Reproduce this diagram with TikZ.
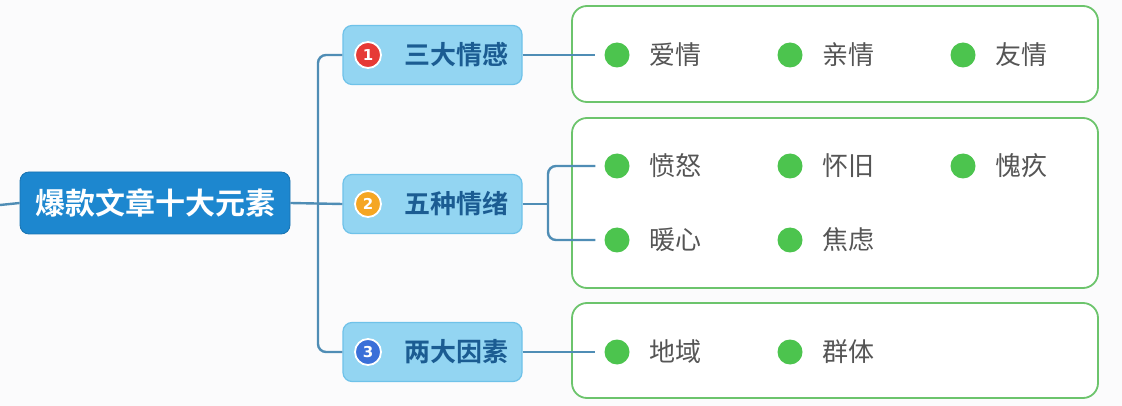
\documentclass[tikz,border=0pt]{standalone}
\usepackage{fontspec}
\newfontfamily\cjk{Noto Sans CJK SC}
\newfontfamily\cjkb{Noto Sans CJK SC Bold}
\newfontfamily\numfont{DejaVu Sans Bold}
\begin{document}
\begin{tikzpicture}[x=1pt,y=-1pt,
  rootbox/.style={draw=rootblue!85!black, line width=0.8pt, fill=rootblue, rounded corners=9pt, minimum width=270pt, minimum height=62pt, inner sep=0pt, text=white, font=\cjkb\fontsize{30}{30}\selectfont},
  branchbox/.style={draw=branchedge, line width=1.2pt, fill=branchfill, rounded corners=9pt, minimum width=179pt, minimum height=59pt, inner sep=0pt},
  branchtext/.style={text=branchtext, font=\cjkb\fontsize{26}{26}\selectfont, inner sep=0pt},
  numdot/.style={circle, draw=white, line width=1.8pt, minimum size=26pt, inner sep=0pt, text=white, font=\numfont\fontsize{15}{15}\selectfont},
  groupbox/.style={draw=groupgreen, line width=1.8pt, fill=white, rounded corners=15pt},
  bullet/.style={circle, fill=dotgreen, minimum size=25pt, inner sep=0pt},
  leaf/.style={anchor=west, text=leafgray, font=\cjk\fontsize{26}{26}\selectfont, inner sep=0pt},
  conn/.style={draw=connblue, line width=2.4pt, rounded corners=8pt}
]
\definecolor{rootblue}{HTML}{1D87CF}
\definecolor{branchfill}{HTML}{93D5F2}
\definecolor{branchedge}{HTML}{6FC2E9}
\definecolor{branchtext}{HTML}{1B5C92}
\definecolor{groupgreen}{HTML}{6CC46C}
\definecolor{dotgreen}{HTML}{4CC44E}
\definecolor{leafgray}{HTML}{555555}
\definecolor{connblue}{HTML}{4F8DB5}
\definecolor{bg}{HTML}{FBFBFC}
\definecolor{red1}{HTML}{E63A36}
\definecolor{orange2}{HTML}{F5A623}
\definecolor{blue3}{HTML}{3A6FD8}

\useasboundingbox[fill=bg] (0,0) rectangle (1122,406);

% group boxes
\draw[groupbox] (572,6) rectangle (1098,102);
\draw[groupbox] (572,118) rectangle (1098,288);
\draw[groupbox] (572,303) rectangle (1098,398);

% root
\node[rootbox] (root) at (155,203) {爆款文章十大元素};
\coordinate (lin) at (0,205);
\draw[conn] (lin) -- (root.west);

% branches
\node[branchbox] (b1) at (432.5,55) {};
\node[branchbox] (b2) at (432.5,204) {};
\node[branchbox] (b3) at (432.5,352) {};
\node[numdot, fill=red1] (n1) at (368,55) {1};
\node[numdot, fill=orange2] (n2) at (368,204) {2};
\node[numdot, fill=blue3] (n3) at (368,352) {3};
\node[branchtext] (t1) at (456,55) {三大情感};
\node[branchtext] (t2) at (456,204) {五种情绪};
\node[branchtext] (t3) at (456,352) {两大因素};

% trunk
\coordinate (tr) at (318,203);
\draw[conn] (root.east) -- (b2.west);
\draw[conn] (b1.west) -| (tr) |- (b3.west);

% bullets and leaves
\node[bullet] (d11) at (617,55) {};
\node[leaf] (l11) at (649,55) {爱情};
\node[bullet] (d12) at (790,55) {};
\node[leaf] (l12) at (822,55) {亲情};
\node[bullet] (d13) at (963,55) {};
\node[leaf] (l13) at (995,55) {友情};

\node[bullet] (d21) at (617,166) {};
\node[leaf] (l21) at (649,166) {愤怒};
\node[bullet] (d22) at (790,166) {};
\node[leaf] (l22) at (822,166) {怀旧};
\node[bullet] (d23) at (963,166) {};
\node[leaf] (l23) at (995,166) {愧疚};
\node[bullet] (d24) at (617,240) {};
\node[leaf] (l24) at (649,240) {暖心};
\node[bullet] (d25) at (790,240) {};
\node[leaf] (l25) at (822,240) {焦虑};

\node[bullet] (d31) at (617,352) {};
\node[leaf] (l31) at (649,352) {地域};
\node[bullet] (d32) at (790,352) {};
\node[leaf] (l32) at (822,352) {群体};

% connectors to leaves
\draw[conn] (b1.east) -- ([xshift=-9pt]d11.west);
\draw[conn] (b3.east) -- ([xshift=-9pt]d31.west);
\coordinate (fk) at (548,204);
\draw[conn] (b2.east) -- (fk);
\draw[conn] ([xshift=-9pt]d21.west) -| (fk) |- ([xshift=-9pt]d24.west);
\end{tikzpicture}
\end{document}
